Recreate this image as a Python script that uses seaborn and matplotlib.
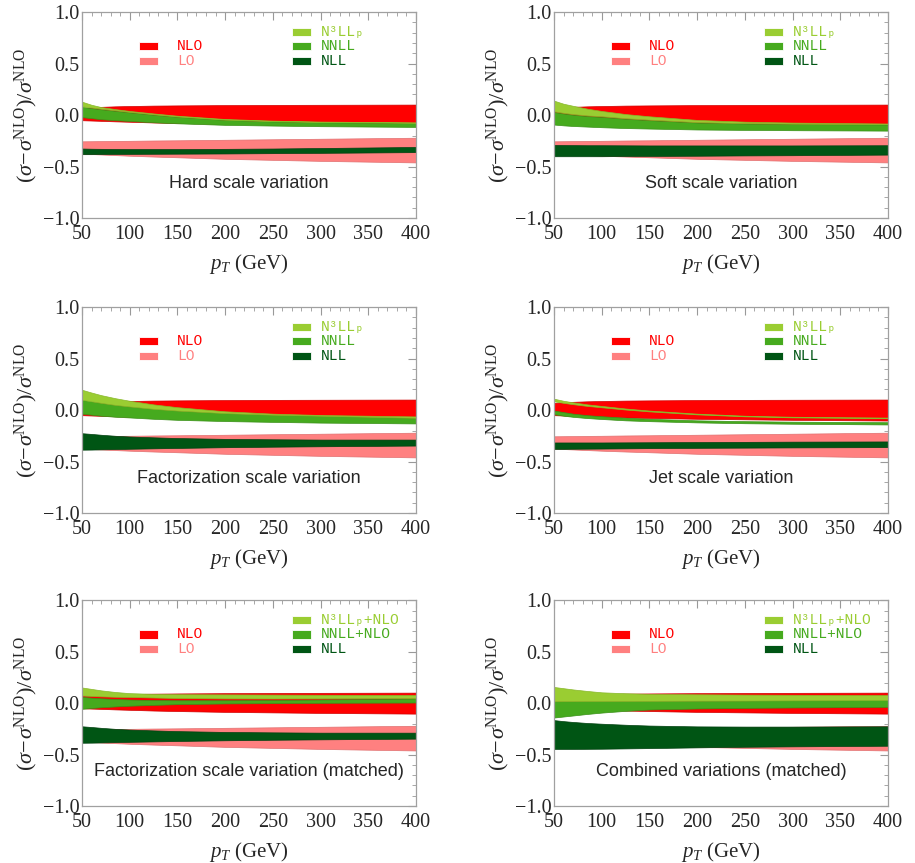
import numpy as np
import matplotlib
matplotlib.use("Agg")
import matplotlib.pyplot as plt
import seaborn as sns
from matplotlib.patches import Rectangle
from matplotlib.ticker import MultipleLocator, FuncFormatter

pt = [50, 60, 70, 85, 100, 125, 150, 200, 250, 300, 400]

# fixed order bands (same in every panel)
nlo_hi = [0.07, 0.075, 0.08, 0.085, 0.088, 0.092, 0.094, 0.097, 0.099, 0.1, 0.102]
nlo_lo = [-0.05, -0.053, -0.056, -0.061, -0.065, -0.072, -0.077, -0.085, -0.09, -0.095, -0.102]
lo_hi = [-0.255, -0.254, -0.253, -0.251, -0.25, -0.247, -0.245, -0.24, -0.235, -0.23, -0.22]
lo_lo = [-0.375, -0.379, -0.383, -0.389, -0.395, -0.403, -0.41, -0.425, -0.435, -0.445, -0.46]

# hard scale variation
hard_n3ll_hi = [0.13, 0.1, 0.078, 0.058, 0.04, 0.016, -0.006, -0.038, -0.054, -0.063, -0.071]
hard_n3ll_lo = [0.085, 0.074, 0.062, 0.047, 0.031, 0.008, -0.013, -0.044, -0.059, -0.067, -0.075]
hard_nnll_hi = [0.08, 0.068, 0.056, 0.041, 0.026, 0.003, -0.017, -0.047, -0.062, -0.07, -0.078]
hard_nnll_lo = [-0.02, -0.03, -0.04, -0.05, -0.057, -0.07, -0.08, -0.095, -0.102, -0.108, -0.115]
hard_nll_hi = [-0.325, -0.327, -0.328, -0.329, -0.33, -0.33, -0.33, -0.328, -0.325, -0.32, -0.31]
hard_nll_lo = [-0.38, -0.38, -0.379, -0.378, -0.377, -0.376, -0.375, -0.373, -0.37, -0.367, -0.36]

# soft scale variation
soft_n3ll_hi = [0.14, 0.11, 0.09, 0.062, 0.04, 0.01, -0.012, -0.047, -0.064, -0.073, -0.082]
soft_n3ll_lo = [0.037, 0.022, 0.01, -0.003, -0.011, -0.03, -0.044, -0.068, -0.078, -0.083, -0.088]
soft_nnll_hi = [0.03, 0.015, 0.003, -0.01, -0.018, -0.036, -0.05, -0.073, -0.082, -0.087, -0.092]
soft_nnll_lo = [-0.092, -0.1, -0.106, -0.112, -0.118, -0.126, -0.131, -0.14, -0.144, -0.147, -0.151]
soft_nll_hi = [-0.29, -0.291, -0.292, -0.293, -0.293, -0.294, -0.295, -0.295, -0.295, -0.295, -0.293]
soft_nll_lo = [-0.4, -0.4, -0.4, -0.4, -0.4, -0.398, -0.397, -0.395, -0.392, -0.39, -0.384]

# factorization scale variation
fac_n3ll_hi = [0.197, 0.17, 0.145, 0.115, 0.09, 0.055, 0.028, -0.012, -0.035, -0.048, -0.062]
fac_n3ll_lo = [0.1, 0.085, 0.07, 0.05, 0.035, 0.012, -0.005, -0.03, -0.045, -0.055, -0.075]
fac_nnll_hi = [0.1, 0.085, 0.07, 0.05, 0.035, 0.012, -0.005, -0.03, -0.045, -0.055, -0.075]
fac_nnll_lo = [-0.035, -0.045, -0.055, -0.065, -0.072, -0.085, -0.095, -0.107, -0.115, -0.122, -0.13]
fac_nll_hi = [-0.225, -0.232, -0.24, -0.25, -0.257, -0.265, -0.272, -0.28, -0.284, -0.287, -0.287]
fac_nll_lo = [-0.385, -0.384, -0.382, -0.379, -0.376, -0.372, -0.368, -0.361, -0.356, -0.352, -0.345]

# jet scale variation
jet_n3ll_hi = [0.11, 0.09, 0.075, 0.055, 0.04, 0.015, -0.005, -0.035, -0.055, -0.065, -0.073]
jet_n3ll_lo = [0.085, 0.07, 0.057, 0.04, 0.027, 0.005, -0.013, -0.042, -0.061, -0.071, -0.079]
jet_nnll_hi = [-0.005, -0.02, -0.035, -0.05, -0.06, -0.075, -0.085, -0.1, -0.108, -0.113, -0.118]
jet_nnll_lo = [-0.04, -0.055, -0.066, -0.078, -0.087, -0.1, -0.108, -0.12, -0.128, -0.133, -0.14]
jet_nll_hi = [-0.315, -0.315, -0.315, -0.315, -0.315, -0.314, -0.313, -0.311, -0.309, -0.307, -0.305]
jet_nll_lo = [-0.377, -0.377, -0.376, -0.375, -0.374, -0.372, -0.37, -0.367, -0.365, -0.363, -0.36]

# factorization scale variation (matched)
facm_n3ll_hi = [0.152, 0.138, 0.124, 0.108, 0.097, 0.09, 0.087, 0.085, 0.083, 0.081, 0.079]
facm_n3ll_lo = [0.075, 0.07, 0.066, 0.062, 0.06, 0.055, 0.05, 0.046, 0.045, 0.046, 0.05]
facm_nnll_hi = [0.06, 0.053, 0.047, 0.04, 0.035, 0.03, 0.028, 0.028, 0.03, 0.035, 0.045]
facm_nnll_lo = [-0.055, -0.047, -0.04, -0.032, -0.025, -0.017, -0.01, -0.003, 0.0, 0.003, 0.006]

# combined variations (matched)
comb_n3ll_hi = [0.157, 0.145, 0.133, 0.118, 0.105, 0.096, 0.09, 0.086, 0.083, 0.081, 0.078]
comb_n3ll_lo = [0.018, 0.019, 0.019, 0.02, 0.02, 0.021, 0.022, 0.024, 0.025, 0.027, 0.03]
comb_nnll_hi = [0.018, 0.019, 0.019, 0.02, 0.02, 0.021, 0.022, 0.024, 0.025, 0.027, 0.03]
comb_nnll_lo = [-0.14, -0.13, -0.12, -0.105, -0.092, -0.075, -0.062, -0.052, -0.046, -0.042, -0.036]
comb_nll_hi = [-0.165, -0.175, -0.183, -0.193, -0.2, -0.21, -0.218, -0.226, -0.228, -0.228, -0.225]
comb_nll_lo = [-0.445, -0.445, -0.445, -0.444, -0.443, -0.44, -0.437, -0.43, -0.424, -0.42, -0.414]

titles = ["Hard scale variation", "Soft scale variation",
          "Factorization scale variation", "Jet scale variation",
          "Factorization scale variation (matched)", "Combined variations (matched)"]
labels_plain = ["N\u00b3LL\u209a", "NNLL", "NLL"]
labels_matched = ["N\u00b3LL\u209a+NLO", "NNLL+NLO", "NLL"]

c_nlo, c_lo = "#ff0000", "#ff8080"
c_n3ll, c_nnll, c_nll = "#9acd32", "#46aa1e", "#005514"

sns.set_style("white")
plt.rcParams["font.family"] = ["Liberation Serif", "DejaVu Serif"]
plt.rcParams["mathtext.fontset"] = "custom"
plt.rcParams["mathtext.rm"] = "Liberation Serif"
plt.rcParams["mathtext.it"] = "Liberation Serif:italic"

panels = [
    (hard_n3ll_lo, hard_n3ll_hi, hard_nnll_lo, hard_nnll_hi, hard_nll_lo, hard_nll_hi),
    (soft_n3ll_lo, soft_n3ll_hi, soft_nnll_lo, soft_nnll_hi, soft_nll_lo, soft_nll_hi),
    (fac_n3ll_lo, fac_n3ll_hi, fac_nnll_lo, fac_nnll_hi, fac_nll_lo, fac_nll_hi),
    (jet_n3ll_lo, jet_n3ll_hi, jet_nnll_lo, jet_nnll_hi, jet_nll_lo, jet_nll_hi),
    (facm_n3ll_lo, facm_n3ll_hi, facm_nnll_lo, facm_nnll_hi, fac_nll_lo, fac_nll_hi),
    (comb_n3ll_lo, comb_n3ll_hi, comb_nnll_lo, comb_nnll_hi, comb_nll_lo, comb_nll_hi),
]

fig = plt.figure(figsize=(9.15, 8.63), dpi=100)
lefts = [0.0896, 0.6055]
bottoms = [0.7474, 0.4056, 0.066]
w, h = 0.365, 0.2385

minus = FuncFormatter(lambda v, p: f"{v:.1f}".replace("-", "\u2212"))

for i, bands in enumerate(panels):
    ax = fig.add_axes([lefts[i % 2], bottoms[i // 2], w, h])
    n3_lo, n3_hi, nn_lo, nn_hi, nl_lo, nl_hi = bands

    ax.fill_between(pt, lo_lo, lo_hi, color=c_lo, lw=0.5, ec="#e07070")
    ax.fill_between(pt, nlo_lo, nlo_hi, color=c_nlo, lw=0.5, ec="#d00000")
    ax.fill_between(pt, nl_lo, nl_hi, color=c_nll, lw=0.5, ec="#00400f")
    ax.fill_between(pt, nn_lo, nn_hi, color=c_nnll, lw=0.5, ec="#3a9018")
    ax.fill_between(pt, n3_lo, n3_hi, color=c_n3ll, lw=0.5, ec="#88b82a")

    ax.set_xlim(50, 400)
    ax.set_ylim(-1, 1)
    ax.xaxis.set_major_locator(MultipleLocator(50))
    ax.xaxis.set_minor_locator(MultipleLocator(10))
    ax.yaxis.set_major_locator(MultipleLocator(0.5))
    ax.yaxis.set_minor_locator(MultipleLocator(0.1))
    ax.yaxis.set_major_formatter(minus)
    ax.tick_params(which="both", direction="in", top=True, right=True,
                   color="#999999", labelsize=14.5)
    ax.tick_params(which="major", length=6, width=0.8)
    ax.tick_params(which="minor", length=3, width=0.6)
    ax.tick_params(axis="y", pad=2)
    ax.tick_params(axis="x", pad=5)
    for s in ax.spines.values():
        s.set_color("#a0a0a0")
        s.set_linewidth(0.9)

    ax.set_xlabel(r"$p_T$ (GeV)", fontsize=15)
    ax.set_ylabel(r"$(\sigma\!-\!\sigma^{\mathrm{NLO}})/\sigma^{\mathrm{NLO}}$", fontsize=16)
    ax.xaxis.set_label_coords(0.5, -0.165)
    ax.yaxis.set_label_coords(-0.125, 0.5)

    # legend boxes and coloured labels
    names = labels_matched if i >= 4 else labels_plain
    rows = [(0.834, c_nlo, "NLO", 0.171), (0.764, c_lo, "LO", 0.171),
            (0.904, c_n3ll, names[0], 0.63), (0.834, c_nnll, names[1], 0.63),
            (0.764, c_nll, names[2], 0.63)]
    for y, col, txt, x0 in rows:
        ax.add_patch(Rectangle((x0, y - 0.02), 0.057, 0.04, transform=ax.transAxes,
                               facecolor=col, edgecolor="white", lw=0.6, zorder=5))
        ax.text(x0 + 0.113 if x0 < 0.5 else x0 + 0.086, y, txt, transform=ax.transAxes,
                color=col, fontsize=10.5, family=["Liberation Mono", "DejaVu Sans Mono"],
                va="center", ha="left", zorder=5)

    ax.text(0.5, 0.168, titles[i], transform=ax.transAxes, ha="center", va="center",
            fontsize=13, family="Liberation Sans")

fig.savefig("out.png", dpi=100, facecolor="white")
